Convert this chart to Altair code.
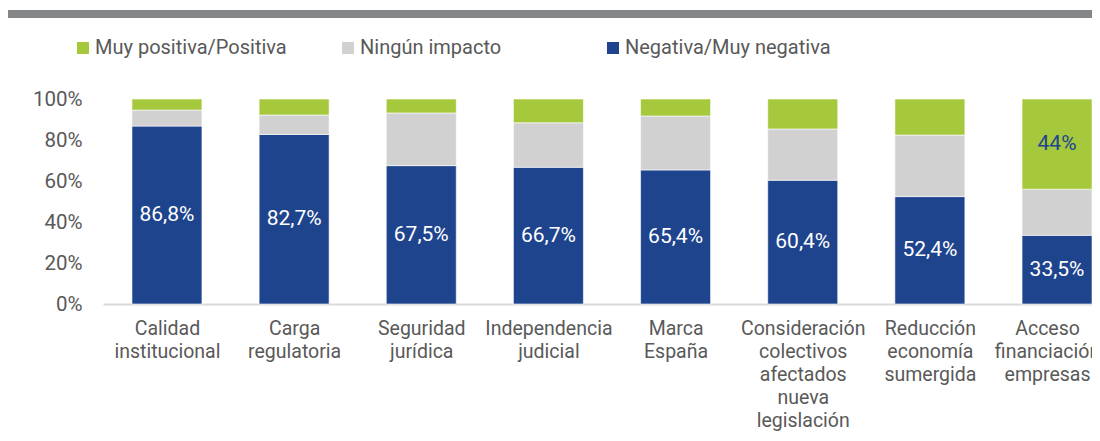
import json
import altair as alt
import pandas as pd

categories = [
    "Calidad institucional",
    "Carga regulatoria",
    "Seguridad jurídica",
    "Independencia judicial",
    "Marca España",
    "Consideración colectivos afectados nueva legislación",
    "Reducción economía sumergida",
    "Acceso financiación empresas",
]
category_lines = [
    ["Calidad", "institucional"],
    ["Carga", "regulatoria"],
    ["Seguridad", "jurídica"],
    ["Independencia", "judicial"],
    ["Marca", "España"],
    ["Consideración", "colectivos", "afectados", "nueva", "legislación"],
    ["Reducción", "economía", "sumergida"],
    ["Acceso", "financiación", "empresas"],
]
series = ["Muy positiva/Positiva", "Ningún impacto", "Negativa/Muy negativa"]
negativa = [86.8, 82.7, 67.5, 66.7, 65.4, 60.4, 52.4, 33.5]
ninguno = [7.8, 9.5, 25.7, 21.7, 26.3, 25.0, 30.0, 22.5]
positiva = [5.4, 7.8, 6.8, 11.6, 8.3, 14.6, 17.6, 44.0]
positiva_labels = ["", "", "", "", "", "", "", "44%"]
colors = ["#A5C83C", "#D0D1D0", "#1F448E"]

rows = []
for i, c in enumerate(categories):
    rows.append({"idx": i, "cat": c, "serie": series[2], "ord": 0, "value": negativa[i],
                 "label": f"{negativa[i]:.1f}".replace(".", ",") + "%", "lc": "white"})
    rows.append({"idx": i, "cat": c, "serie": series[1], "ord": 1, "value": ninguno[i],
                 "label": "", "lc": "white"})
    rows.append({"idx": i, "cat": c, "serie": series[0], "ord": 2, "value": positiva[i],
                 "label": positiva_labels[i], "lc": "blue"})
df = pd.DataFrame(rows)

label_expr = json.dumps(category_lines, ensure_ascii=False) + "[datum.value]"
FONT = "Roboto"
TXT = "#595959"
last = len(categories) - 1

base = alt.Chart(df).transform_stack(
    stack="value", groupby=["idx"], as_=["y0", "y1"],
    sort=[alt.SortField("ord", order="ascending")]
).transform_calculate(ym="(datum.y0 + datum.y1) / 2")

x_scale = alt.Scale(domain=[-0.503, 7.275], nice=False, zero=False, padding=0)
x_enc = alt.X(
    "idx:Q",
    scale=x_scale,
    axis=alt.Axis(
        values=list(range(len(categories))), labelExpr=label_expr, title=None,
        ticks=False, grid=False, domainColor="#D9D9D9", domainWidth=2,
        labelFont=FONT, labelFontSize=19.5, labelColor=TXT, labelLineHeight=23,
        labelPadding=15, labelOverlap=False, labelFlush=False, labelBound=False,
        labelBaseline="top",
        labelOffset={"condition": {"test": f"datum.value == {last}", "value": -10}, "value": 0},
    ),
)
y_scale = alt.Scale(domain=[0, 100], nice=False, padding=0)

bars = base.mark_bar(size=70, stroke="white", strokeWidth=0.6).encode(
    x=x_enc,
    y=alt.Y(
        "y0:Q", scale=y_scale,
        axis=alt.Axis(
            values=[0, 20, 40, 60, 80, 100], labelExpr="datum.value + '%'", title=None,
            ticks=False, grid=False, domain=False, labelFont=FONT, labelFontSize=20.5,
            labelColor=TXT, labelPadding=21,
        ),
    ),
    y2="y1:Q",
    color=alt.Color(
        "serie:N",
        scale=alt.Scale(domain=series, range=colors),
        legend=alt.Legend(
            title=None, orient="none", legendX=-30, legendY=-61, direction="horizontal",
            columns=3, gridAlign="all", columnPadding=37, symbolType="square",
            symbolSize=144, symbolStrokeWidth=0, labelFont=FONT, labelFontSize=20,
            labelColor=TXT, labelOffset=2, labelLimit=400,
        ),
    ),
)

texts = base.mark_text(font=FONT, fontSize=21, baseline="middle").encode(
    x=alt.X("idx:Q", scale=x_scale),
    y=alt.Y("ym:Q", scale=y_scale),
    text="label:N",
    color=alt.Color("lc:N", scale=alt.Scale(domain=["white", "blue"],
                                            range=["#FFFFFF", "#1F448E"]), legend=None),
)

band = alt.Chart(pd.DataFrame({"k": [0]})).mark_rule(color="#858688", strokeWidth=8).encode(
    x=alt.value(-95), x2=alt.value(989), y=alt.value(-85)
)

chart = alt.layer(bars, texts, band).resolve_scale(color="independent").properties(
    width=989, height=205,
    autosize=alt.AutoSizeParams(type="none"),
    padding={"left": 95, "top": 91, "right": 0, "bottom": 129},
).configure_view(stroke=None)

chart.save("out.html", embed_options={"renderer": "svg", "actions": False})
